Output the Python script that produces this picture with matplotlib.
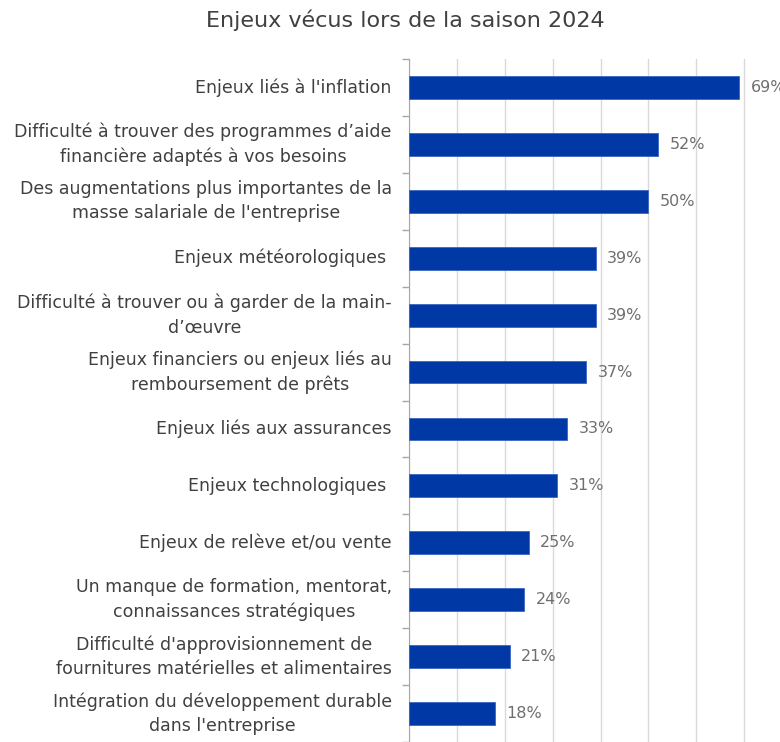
import matplotlib.pyplot as plt
import matplotlib

matplotlib.rcParams.update({
    "font.family": ["DejaVu Sans"],
    "figure.dpi": 100,
})

# Data
categories = [
    "Enjeux liés à l'inflation",
    "Difficulté à trouver des programmes d’aide\nfinancière adaptés à vos besoins",
    "Des augmentations plus importantes de la\nmasse salariale de l'entreprise",
    "Enjeux météorologiques ",
    "Difficulté à trouver ou à garder de la main-\nd’œuvre",
    "Enjeux financiers ou enjeux liés au\nremboursement de prêts",
    "Enjeux liés aux assurances",
    "Enjeux technologiques ",
    "Enjeux de relève et/ou vente",
    "Un manque de formation, mentorat,\nconnaissances stratégiques",
    "Difficulté d'approvisionnement de\nfournitures matérielles et alimentaires",
    "Intégration du développement durable\ndans l'entreprise",
]
values = [69, 52, 50, 39, 39, 37, 33, 31, 25, 24, 21, 18]

fig = plt.figure(figsize=(7.8, 7.42))
# axes runs past the right edge, the source image is cropped there
ax = fig.add_axes([409 / 780, 0.0, 383 / 780, 683 / 742])

y = range(len(categories))
ax.barh(y, values, height=0.40, color="#0039A6", edgecolor="#3A66C4", linewidth=0.6, zorder=3)
ax.set_ylim(len(categories) - 0.5, -0.5)
ax.set_xlim(0, 80)

ax.set_xticks(range(0, 81, 10))
ax.tick_params(axis="x", length=0, labelbottom=False)
ax.grid(axis="x", color="#D9D9D9", linewidth=1, zorder=0)

# tick marks between categories, labels centred on bars
ax.set_yticks([i + 0.5 for i in range(-1, len(categories))])
ax.set_yticklabels([])
ax.tick_params(axis="y", length=5, color="#A6A6A6", width=1)
for i, lab in enumerate(categories):
    ax.text(-3.6, i, lab, ha="right", va="center", multialignment="center",
            fontsize=12.5, color="#404040", linespacing=1.45)

for s in ["top", "right", "bottom"]:
    ax.spines[s].set_visible(False)
ax.spines["left"].set_color("#A6A6A6")

for i, v in enumerate(values):
    ax.text(v + 2.4, i, f"{v}%", va="center", ha="left", fontsize=11.5, color="#6F6F6F")

fig.text(405 / 780, 1 - 20 / 742, "Enjeux vécus lors de la saison 2024", ha="center", va="center",
         fontsize=16, color="#404040")

fig.savefig("out.png", dpi=100)
